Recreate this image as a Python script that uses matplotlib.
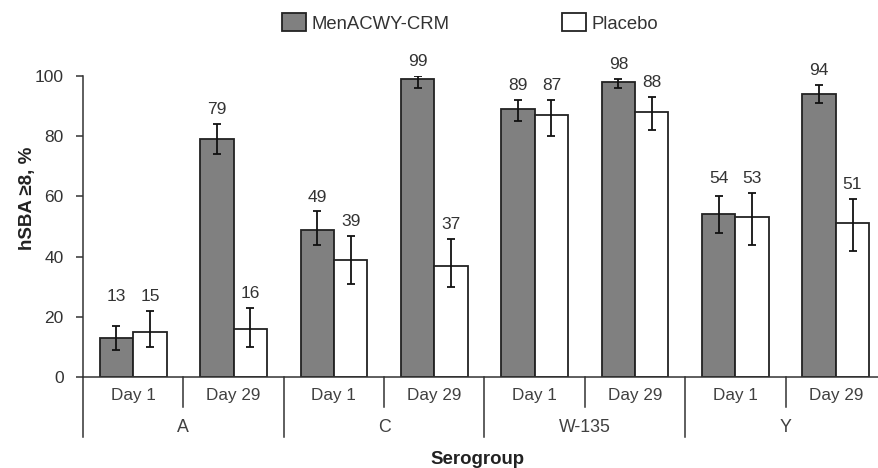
import numpy as np
import matplotlib
matplotlib.use('Agg')
import matplotlib.pyplot as plt
from matplotlib.patches import Patch

plt.rcParams['font.family'] = ['Liberation Sans', 'DejaVu Sans']

# datos
grupos = ['A', 'C', 'W-135', 'Y']
dias = ['Day 1', 'Day 29']

men = [13, 79, 49, 99, 89, 98, 54, 94]
men_lo = [9, 74, 44, 96, 85, 96, 48, 91]
men_hi = [17, 84, 55, 100, 92, 99, 60, 97]

pla = [15, 16, 39, 37, 87, 88, 53, 51]
pla_lo = [10, 10, 31, 30, 80, 82, 44, 42]
pla_hi = [22, 23, 47, 46, 92, 93, 61, 59]

GRIS = '#808080'
TXT = '#333333'

W, H = 879, 468
fig = plt.figure(figsize=(W / 100, H / 100), dpi=100)
ax = fig.add_axes([83 / W, 1 - 377 / H, 803 / W, 301 / H])

x = np.arange(len(men))
bw = 0.333

men = np.array(men)
pla = np.array(pla)
err_m = [men - np.array(men_lo), np.array(men_hi) - men]
err_p = [pla - np.array(pla_lo), np.array(pla_hi) - pla]

ekw = dict(ecolor='#111111', elinewidth=1.3, capsize=3, capthick=1.3)
ax.bar(x - bw / 2, men, bw, color=GRIS, edgecolor='#222222', linewidth=1.3, yerr=err_m, error_kw=ekw)
ax.bar(x + bw / 2, pla, bw, color='white', edgecolor='#222222', linewidth=1.3, yerr=err_p, error_kw=ekw)

# etiquetas de valores (alineadas si los limites son parecidos)
for i in range(len(men)):
    ym = men_hi[i]
    yp = pla_hi[i]
    if abs(ym - yp) <= 5.5:
        ym = yp = max(ym, yp)
    ax.annotate(str(men[i]), (x[i] - bw / 2, ym), xytext=(0, 5), textcoords='offset points',
                ha='center', va='bottom', fontsize=12.5, color=TXT)
    ax.annotate(str(pla[i]), (x[i] + bw / 2, yp), xytext=(0, 5), textcoords='offset points',
                ha='center', va='bottom', fontsize=12.5, color=TXT)

ax.set_xlim(-0.5, len(men) - 0.5)
ax.set_ylim(0, 100)
ax.set_yticks(range(0, 101, 20))
ax.tick_params(axis='y', labelsize=12.5, labelcolor='#333333', length=5, width=1.1,
               color='#333333', pad=9)
ax.set_xticks([])
for s in ['top', 'right']:
    ax.spines[s].set_visible(False)
ax.spines['left'].set_color('#333333')
ax.spines['bottom'].set_color('#333333')
ax.spines['left'].set_linewidth(1.1)
ax.spines['bottom'].set_linewidth(1.1)

# eje x en dos niveles
tr = ax.get_xaxis_transform()
for i in range(len(men)):
    ax.text(x[i], -0.06, dias[i % 2], transform=tr, ha='center', va='center',
            fontsize=12.3, color='#404040')
for g in range(len(grupos)):
    ax.text(2 * g + 0.5, -0.169, grupos[g], transform=tr, ha='center', va='center',
            fontsize=12.8, color='#404040')
    ax.plot([2 * g + 0.5, 2 * g + 0.5], [0, -0.1], transform=tr, color='#333333',
            lw=1.1, clip_on=False)
for b in np.arange(-0.5, len(men), 2):
    ax.plot([b, b], [0, -0.2], transform=tr, color='#333333', lw=1.1, clip_on=False)

fig.text(478 / W, 1 - 460 / H, 'Serogroup', ha='center', va='center',
         fontsize=13.4, fontweight='bold', color='#222222')
fig.text(28 / W, 1 - 198 / H, 'hSBA ≥8, %', rotation=90, ha='center', va='center',
         fontsize=13.5, fontweight='bold', color='#222222')

handles = [Patch(facecolor=GRIS, edgecolor='#222222', linewidth=1.3),
           Patch(facecolor='white', edgecolor='#222222', linewidth=1.3)]
fig.legend(handles, ['MenACWY-CRM', 'Placebo'], loc='center', bbox_to_anchor=(470 / W, 1 - 23 / H),
           ncol=2, frameon=False, fontsize=13.3, handlelength=1.3, handleheight=1.1,
           handletextpad=0.3, columnspacing=6.1, labelcolor='#333333')

fig.savefig('out.png', dpi=100)
